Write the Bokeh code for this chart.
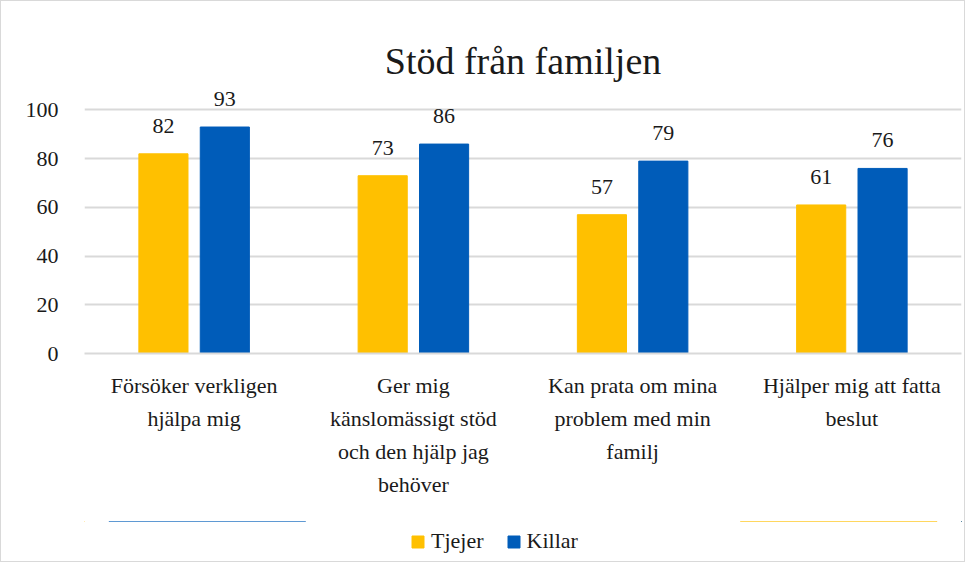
from bokeh.plotting import figure
from bokeh.layouts import column
from bokeh.models import (ColumnDataSource, Range1d, FixedTicker, Legend,
                          LegendItem, LinearAxis)
from bokeh.core.properties import value
from bokeh.embed import file_html
from bokeh.resources import INLINE

title = "Stöd från familjen"
categories = [
    "Försöker verkligen hjälpa mig",
    "Ger mig känslomässigt stöd och den hjälp jag behöver",
    "Kan prata om mina problem med min familj",
    "Hjälper mig att fatta beslut",
]
# category labels as wrapped in the chart, one list per text line
label_lines = [
    ["Försöker verkligen", "Ger mig", "Kan prata om mina", "Hjälper mig att fatta"],
    ["hjälpa mig", "känslomässigt stöd", "problem med min", "beslut"],
    ["", "och den hjälp jag", "familj", ""],
    ["", "behöver", "", ""],
]
series_names = ["Tjejer", "Killar"]
tjejer = [82, 73, 57, 61]
killar = [93, 86, 79, 76]
y_ticks = [0, 20, 40, 60, 80, 100]

YELLOW = "#FFC000"
BLUE = "#005CB9"
FONT = "Liberation Serif"
TEXT = "#1a1a1a"
GRID = "#d9d9d9"

idx = list(range(len(categories)))
off = 0.14
w = 0.224

src = ColumnDataSource(dict(
    x_t=[i - off for i in idx],
    x_k=[i + off for i in idx],
    tjejer=tjejer,
    killar=killar,
    tjejer_lbl=[str(v) for v in tjejer],
    killar_lbl=[str(v) for v in killar],
))

p = figure(
    x_range=Range1d(-0.5, len(categories) - 0.5),
    y_range=Range1d(0, 108),
    width=963, height=520,
    output_backend="svg", toolbar_location=None,
    x_axis_type=None,
    min_border_left=83, min_border_right=3,
    min_border_top=89, min_border_bottom=168,
)
p.outline_line_color = None
p.background_fill_color = "white"
p.border_fill_color = "white"

p.title.text = title
p.title.align = "center"
p.title.text_font = FONT
p.title.text_font_size = "38px"
p.title.text_font_style = "normal"
p.title.text_color = TEXT
p.title.standoff = 18

r1 = p.vbar(x="x_t", top="tjejer", width=w, source=src,
            fill_color=YELLOW, line_color=YELLOW)
r2 = p.vbar(x="x_k", top="killar", width=w, source=src,
            fill_color=BLUE, line_color=BLUE)

for xcol, col in (("x_t", "tjejer"), ("x_k", "killar")):
    p.text(x=xcol, y=col, text=col + "_lbl", source=src,
           text_align="center", text_baseline="alphabetic", y_offset=-28,
           text_font=value(FONT), text_font_size="22px", text_color=TEXT)

p.yaxis.ticker = FixedTicker(ticks=y_ticks)
p.yaxis.axis_line_color = None
p.yaxis.major_tick_line_color = None
p.yaxis.minor_tick_line_color = None
p.yaxis.major_tick_out = 0
p.yaxis.major_label_text_font = FONT
p.yaxis.major_label_text_font_size = "22px"
p.yaxis.major_label_text_color = TEXT
p.yaxis.major_label_standoff = 26

for n, lines in enumerate(label_lines):
    ax = LinearAxis(ticker=FixedTicker(ticks=idx),
                    major_label_overrides={i: (t if t else " ") for i, t in zip(idx, lines)})
    ax.axis_line_color = GRID if n == 0 else None
    ax.axis_line_width = 2
    ax.major_tick_line_color = None
    ax.minor_tick_line_color = None
    ax.major_tick_out = 0
    ax.major_tick_in = 0
    ax.major_label_text_font = FONT
    ax.major_label_text_font_size = "22px"
    ax.major_label_text_color = TEXT
    ax.major_label_standoff = 19 if n == 0 else 5
    p.add_layout(ax, "below")

p.xgrid.grid_line_color = None
p.ygrid.grid_line_color = GRID
p.ygrid.grid_line_width = 2
p.ygrid.ticker = FixedTicker(ticks=y_ticks)

# legend strip below the chart; its bars use the same data but lie outside its view
p2 = figure(width=963, height=40, output_backend="svg", toolbar_location=None,
            x_axis_type=None, y_axis_type=None,
            x_range=Range1d(0, 1), y_range=Range1d(-2, -1), min_border=0)
p2.outline_line_color = None
p2.background_fill_color = "white"
p2.border_fill_color = "white"
p2.grid.grid_line_color = None
d1 = p2.vbar(x="x_t", top="tjejer", bottom=0, width=w, source=src,
             fill_color=YELLOW, line_color=YELLOW)
d2 = p2.vbar(x="x_k", top="killar", bottom=0, width=w, source=src,
             fill_color=BLUE, line_color=BLUE)

legend = Legend(items=[LegendItem(label=series_names[0], renderers=[d1]),
                       LegendItem(label=series_names[1], renderers=[d2])],
                orientation="horizontal", location=(326, 7),
                label_text_font=FONT, label_text_font_size="22px",
                label_text_color=TEXT, glyph_width=15, glyph_height=15,
                spacing=22, label_standoff=6, padding=0, margin=0,
                border_line_color=None, background_fill_alpha=0)
p2.add_layout(legend)

layout = column(p, p2, styles={"border": "1px solid #d9d9d9"})

with open("out.html", "w") as f:
    f.write(file_html(layout, INLINE))
